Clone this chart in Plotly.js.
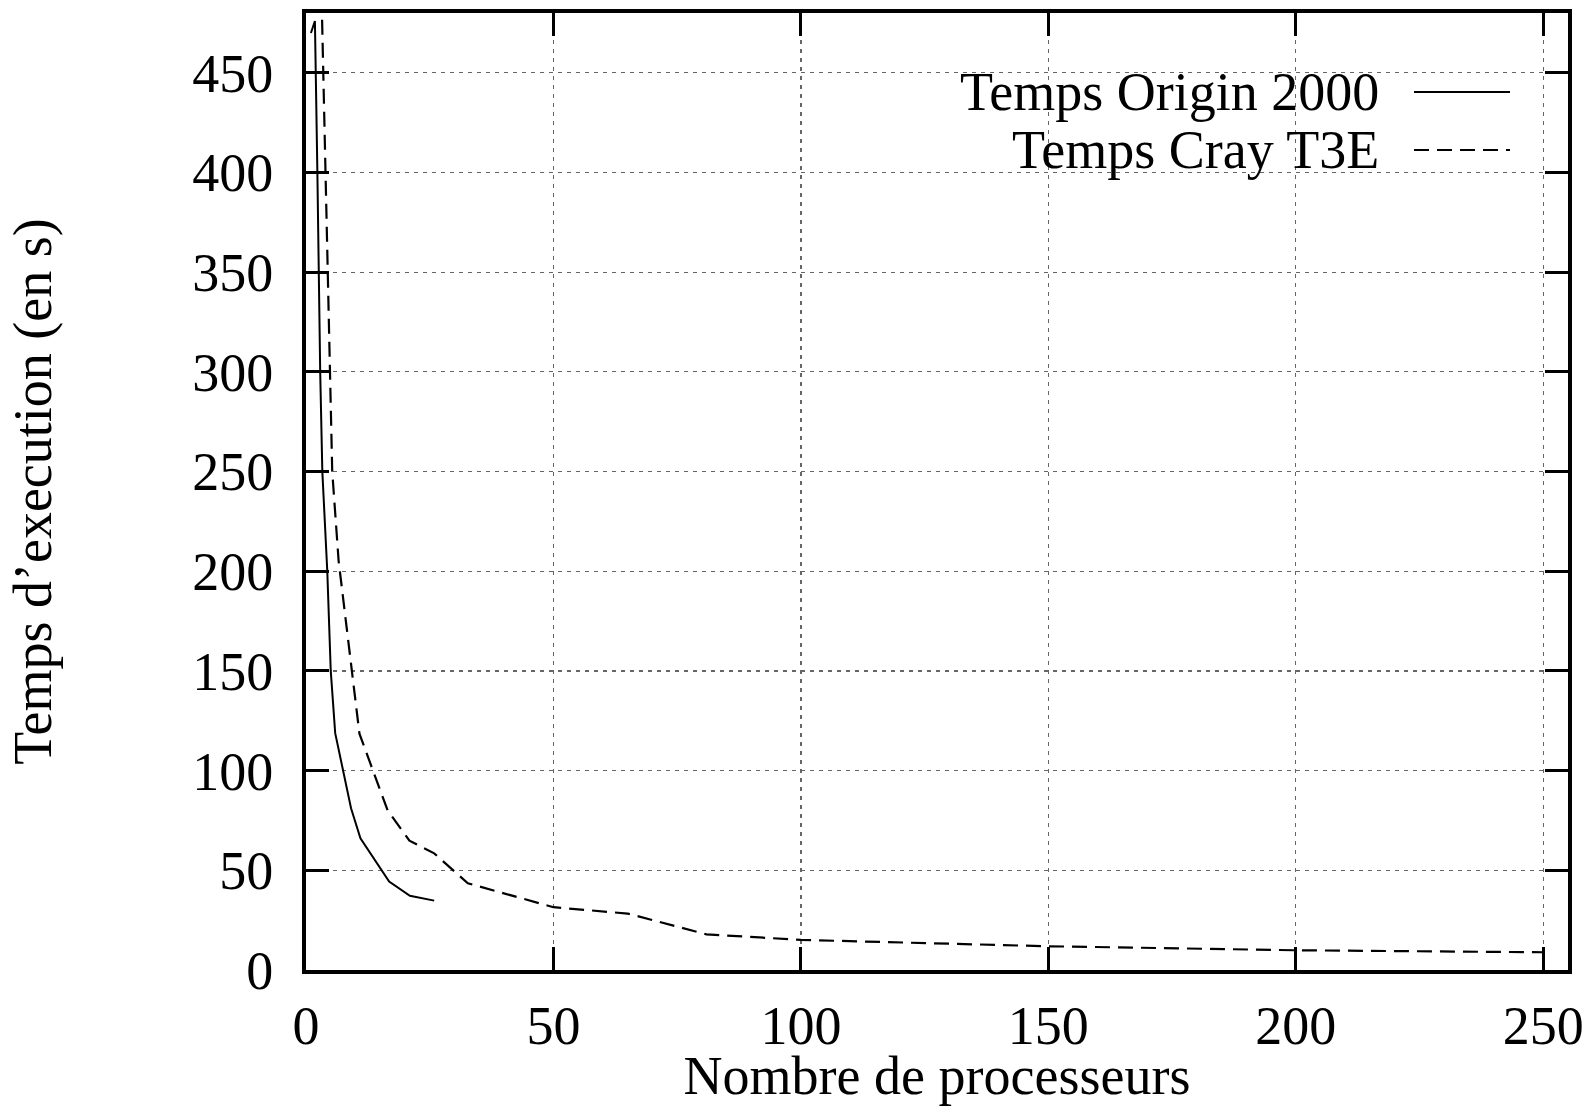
<!DOCTYPE html>
<html>
<head>
<meta charset="utf-8">
<script src="https://cdn.plot.ly/plotly-3.0.1.min.js"></script>
<style>html,body{margin:0;padding:0;background:#fff;}#chart{width:1589px;height:1106px;}</style>
</head>
<body>
<div id="chart"></div>
<script>
// Data
var originX = [1, 1.8, 2.3, 2.55, 2.87, 3.3, 4.3, 5, 5.9, 9.1, 11, 16.8, 21, 25.9];
var originY = [470, 476, 400, 350, 300, 250, 200, 150, 118.8, 81.1, 66.1, 44.4, 37.2, 34.8];
var crayX = [2, 5.3, 6.6, 10.8, 16.5, 20.9, 25.9, 32.7, 50, 65, 80.9, 100, 150, 200, 250];
var crayY = [615, 250, 205, 118.5, 80, 64.9, 58.5, 43.5, 31.5, 28.3, 17.9, 15.1, 11.9, 9.9, 8.9];
var seriesNames = ["Temps Origin 2000", "Temps Cray T3E"];
var seriesDash = ["solid", "15px,8px"];
var xTicks = [0, 50, 100, 150, 200, 250];
var yTicks = [0, 50, 100, 150, 200, 250, 300, 350, 400, 450];
var xTitle = "Nombre de processeurs";
var yTitle = "Temps d’execution (en s)";

var FONT = "Liberation Serif, Times New Roman, serif";
var FS = 54;

var traces = [
  {x: originX, y: originY, mode: "lines", name: seriesNames[0], line: {color: "#000", width: 2, dash: seriesDash[0]}, showlegend: false},
  {x: crayX, y: crayY, mode: "lines", name: seriesNames[1], line: {color: "#000", width: 2.2, dash: seriesDash[1]}, showlegend: false}
];

var W = 1589, H = 1106;
var mL = 306, mR = 21, mT = 13, mB = 136;
var pw = W - mL - mR, ph = H - mT - mB;
function px2x(p){ return (p - mL) / pw; }
function py2y(p){ return (H - mB - p) / ph; }

var annotations = [], shapes = [];
var rowY = [92, 150];
for (var i = 0; i < seriesNames.length; i++) {
  annotations.push({xref: "paper", yref: "paper", x: px2x(1381), y: py2y(rowY[i]), xanchor: "right", yanchor: "middle",
    text: seriesNames[i], showarrow: false, font: {family: FONT, size: FS, color: "#000"}});
  shapes.push({type: "line", xref: "paper", yref: "paper", x0: px2x(1414), x1: px2x(1510), y0: py2y(rowY[i]), y1: py2y(rowY[i]),
    line: {color: "#000", width: 2, dash: seriesDash[i]}});
}

var axisCommon = {
  showline: true, linecolor: "#000", linewidth: 4, mirror: "ticks",
  ticks: "inside", ticklen: 23, tickwidth: 3, tickcolor: "#000",
  showgrid: true, gridcolor: "#666", gridwidth: 1.2, griddash: "4px,5px",
  zeroline: false, tickfont: {family: FONT, size: FS, color: "#000"}
};

var layout = {
  width: W, height: H,
  margin: {l: mL, r: mR, t: mT, b: mB, pad: 0},
  paper_bgcolor: "#fff", plot_bgcolor: "#fff",
  showlegend: false,
  xaxis: Object.assign({}, axisCommon, {
    range: [0, 255], tickvals: xTicks, ticktext: xTicks.map(String), ticklabelstandoff: 5,
    title: {text: xTitle, font: {family: FONT, size: FS, color: "#000"}, standoff: 6}, automargin: false
  }),
  yaxis: Object.assign({}, axisCommon, {
    range: [0, 480], tickvals: yTicks, ticktext: yTicks.map(String), ticklabelstandoff: 18,
    title: {text: yTitle, font: {family: FONT, size: FS, color: "#000"}, standoff: 124}, automargin: false
  }),
  annotations: annotations,
  shapes: shapes
};

Plotly.newPlot("chart", traces, layout, {displayModeBar: false, staticPlot: true});
</script>
</body>
</html>
